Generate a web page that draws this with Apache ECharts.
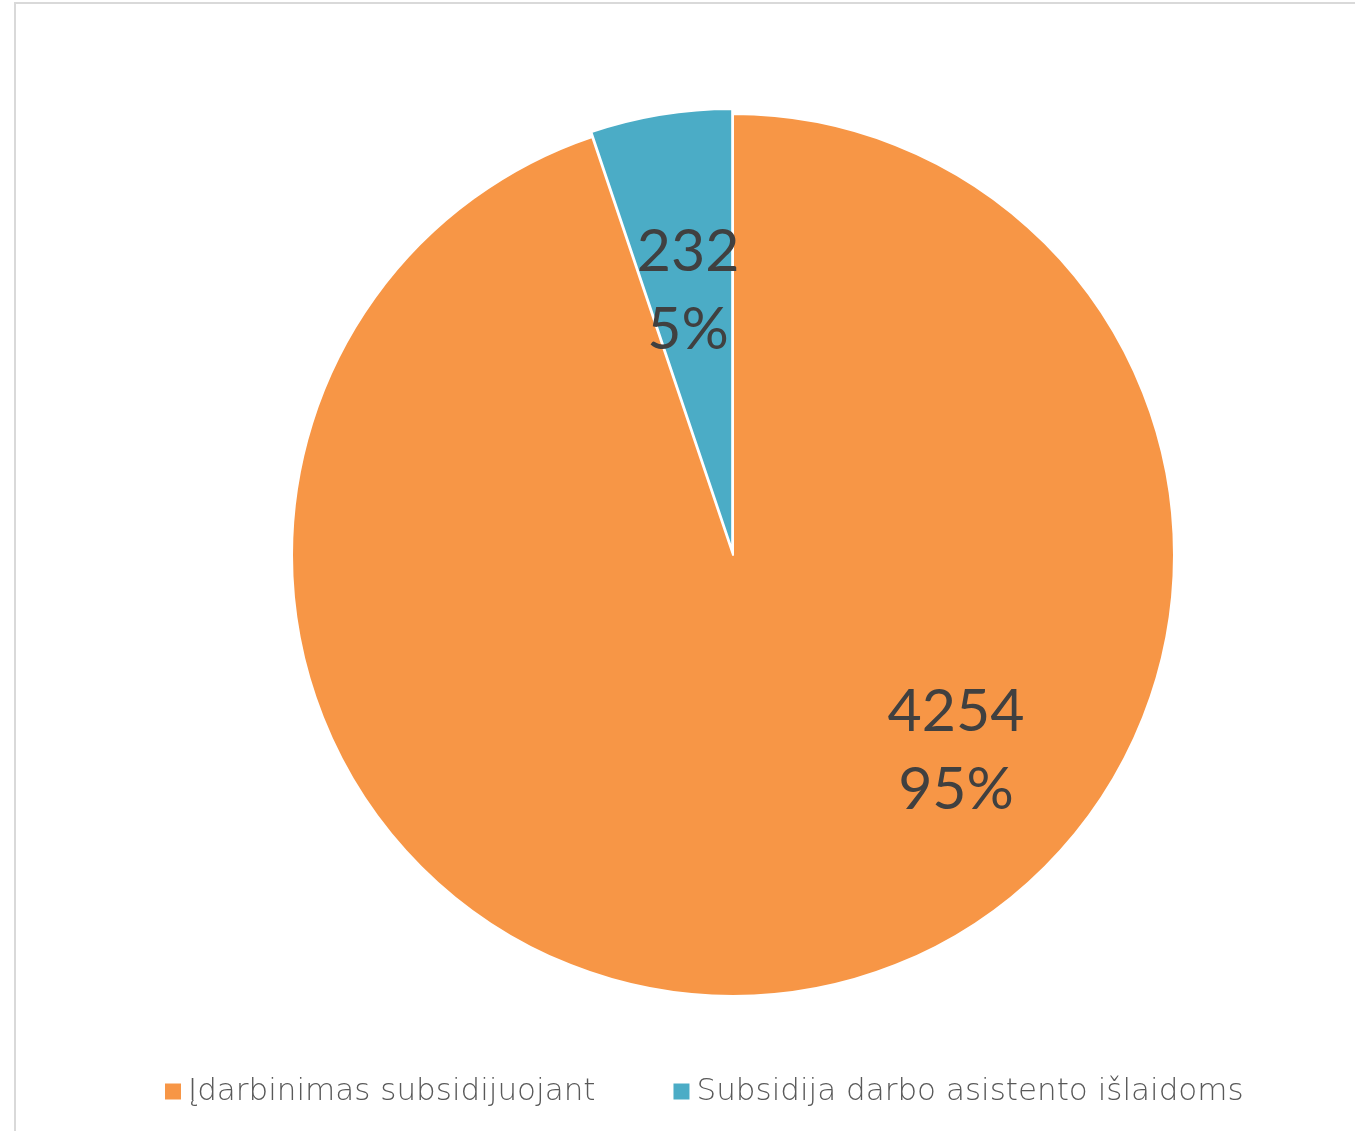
<!DOCTYPE html>
<html>
<head>
<meta charset="utf-8">
<script src="https://cdn.jsdelivr.net/npm/echarts@6/dist/echarts.min.js"></script>
<style>html,body{margin:0;padding:0;background:#fff;}#c{width:1355px;height:1131px;}</style>
</head>
<body>
<div id="c"></div>
<script>
const categories = ['Įdarbinimas subsidijuojant', 'Subsidija darbo asistento išlaidoms'];
const values = [4254, 232];
const colors = ['#F79646', '#4BACC6'];

const chart = echarts.init(document.getElementById('c'), null, {renderer: 'canvas'});
chart.setOption({
  animation: false,
  backgroundColor: '#fff',
  graphic: [{
    type: 'rect',
    shape: {x: 15, y: 3, width: 1400, height: 1200},
    style: {fill: 'none', stroke: '#d9d9d9', lineWidth: 2},
    silent: true, z: -10
  }],
  legend: {
    data: categories,
    left: 160, top: 1071,
    icon: 'rect', itemWidth: 16, itemHeight: 16, itemGap: 78,
    itemStyle: {borderWidth: 0},
    textStyle: {fontFamily: "'DejaVu Sans'", fontWeight: 200, fontSize: 31, color: '#595959', padding: [0, 0, 0, 2]},
    selectedMode: false
  },
  series: [{
    type: 'pie',
    center: [733, 555],
    radius: 441,
    startAngle: 90,
    clockwise: true,
    percentPrecision: 0,
    selectedMode: 'single',
    selectedOffset: 5,
    itemStyle: {borderColor: '#fff', borderWidth: 2},
    label: {
      show: true, position: 'inside',
      formatter: '{c}\n{d}%',
      fontFamily: 'Lato', fontSize: 59, lineHeight: 78, color: '#404040'
    },
    labelLine: {show: false},
    emphasis: {disabled: true},
    labelLayout: function (p) {
      if (p.dataIndex === 0) return {x: 956, y: 751, align: 'center', verticalAlign: 'middle'};
      return {};
    },
    data: categories.map((n, i) => ({
      name: n, value: values[i], itemStyle: {color: colors[i]}, selected: i === 1,
      label: i === 1 ? {padding: [0, 16, 0, 0], formatter: '{c}\n{d}%\n '} : {}
    }))
  }]
});
</script>
</body>
</html>
